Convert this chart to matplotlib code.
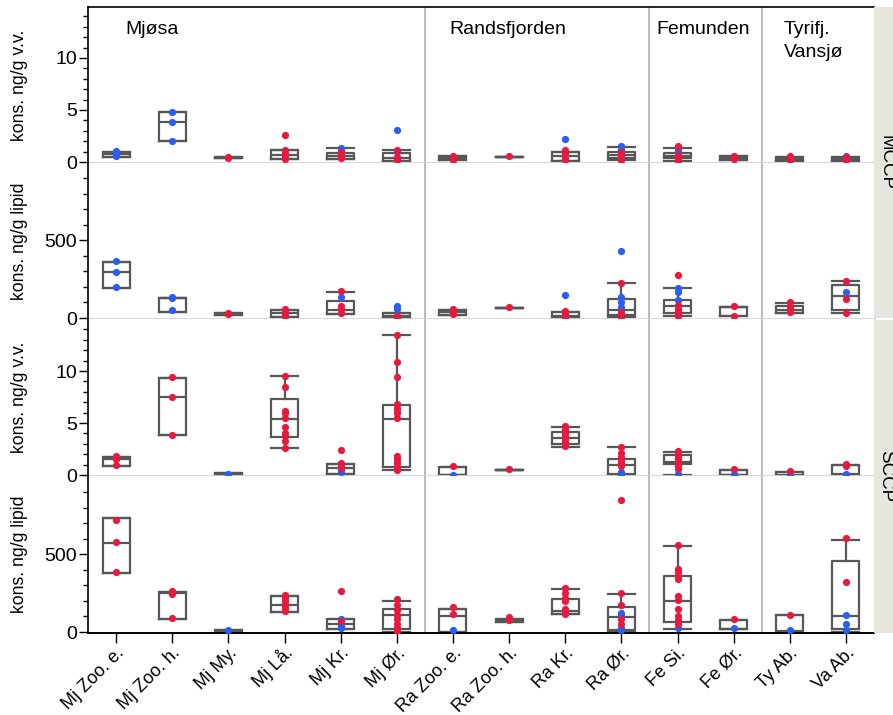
import matplotlib
matplotlib.use("Agg")
import matplotlib.pyplot as plt
from matplotlib.transforms import ScaledTranslation

plt.rcParams['font.family'] = ['Liberation Sans', 'DejaVu Sans']

# ---------------- data ----------------
categories = ["Mj Zoo. e.", "Mj Zoo. h.", "Mj My.", "Mj Lå.", "Mj Kr.", "Mj Ør.",
              "Ra Zoo. e.", "Ra Zoo. h.", "Ra Kr.", "Ra Ør.", "Fe Si.", "Fe Ør.",
              "Ty Ab.", "Va Ab."]
lakes = ["Mjøsa", "Randsfjorden", "Femunden", "Tyrifj.", "Vansjø"]
lake_bounds = [5.5, 9.5, 11.5]
row_labels = ["kons. ng/g v.v.", "kons. ng/g lipid", "kons. ng/g v.v.", "kons. ng/g lipid"]
strip_labels = ["MCCP", "SCCP"]

# box statistics per category: (q1, median, q3, whisker low, whisker high)
mccp_vv_box = [(0.45, 0.75, 1.0, 0.45, 1.0), (2.05, 3.85, 4.84, 2.05, 4.84),
               (0.35, 0.42, 0.5, 0.35, 0.5), (0.26, 0.7, 1.15, 0.26, 1.15),
               (0.3, 0.6, 0.85, 0.3, 1.35), (0.13, 0.35, 0.85, 0.13, 1.15),
               (0.15, 0.35, 0.55, 0.15, 0.55), (0.48, 0.48, 0.48, 0.48, 0.48),
               (0.13, 0.58, 1.0, 0.13, 1.0), (0.42, 0.7, 1.0, 0.15, 1.44),
               (0.38, 0.6, 0.83, 0.13, 1.31), (0.16, 0.35, 0.54, 0.16, 0.54),
               (0.13, 0.3, 0.5, 0.13, 0.5), (0.13, 0.3, 0.5, 0.13, 0.5)]
mccp_vv_red = [[], [], [0.42, 0.47], [0.3, 0.48, 0.72, 0.95, 1.15, 2.6],
               [0.35, 0.55, 0.8, 0.95], [0.15, 0.3, 0.5, 1.2],
               [0.15, 0.35, 0.58], [0.58], [0.15, 0.32, 0.58, 0.83, 1.12],
               [0.15, 0.3, 0.48, 0.74, 1.0], [0.13, 0.26, 0.45, 0.65, 1.5],
               [0.26, 0.45, 0.62], [0.16, 0.35, 0.55], [0.16, 0.35, 0.52]]
mccp_vv_blue = [[0.6, 0.85, 1.08], [2.05, 3.85, 4.84], [], [], [1.05, 1.35],
                [1.0, 3.1], [], [], [2.18], [1.25, 1.5], [1.05, 1.25], [], [], [0.55]]

mccp_lip_box = [(190, 296, 360, 190, 360), (40, 128, 130, 40, 130),
                (18, 25, 35, 18, 35), (8, 32, 54, 8, 54),
                (26, 54, 107, 26, 170), (2, 10, 30, 2, 30),
                (19, 36, 51, 19, 51), (64, 64, 64, 64, 64),
                (2, 15, 41, 2, 41), (17, 49, 124, 4, 223),
                (32, 75, 116, 15, 191), (11, 71, 71, 11, 71),
                (32, 54, 75, 32, 94), (54, 142, 215, 32, 236)]
mccp_lip_red = [[], [], [28, 32], [12, 20, 32, 45, 60], [32, 58, 79, 175],
                [5, 15], [24, 41, 58], [73], [6, 17, 32, 45],
                [4, 11, 24, 39, 227], [11, 28, 43, 60, 86, 279], [15, 80],
                [38, 70, 100], [32, 122, 236]]
mccp_lip_blue = [[200, 296, 369], [49, 128, 133], [], [], [137], [58, 75],
                 [], [], [150], [69, 101, 133, 431], [118, 170, 192], [], [], [167]]

sccp_vv_box = [(0.9, 1.5, 1.7, 0.9, 1.7), (3.8, 7.47, 9.36, 3.8, 9.36),
               (0.0, 0.1, 0.22, 0.0, 0.22), (3.62, 5.38, 7.3, 2.56, 9.52),
               (0.13, 0.7, 1.09, 0.13, 1.09), (0.74, 5.35, 6.7, 0.48, 13.5),
               (0.0, 0.0, 0.8, 0.0, 0.8), (0.48, 0.48, 0.48, 0.48, 0.48),
               (2.98, 3.52, 4.1, 2.66, 4.58), (0.05, 0.96, 1.57, 0.0, 2.69),
               (1.09, 1.25, 1.89, 0.0, 2.24), (0.0, 0.0, 0.48, 0.0, 0.48),
               (-0.1, 0.0, 0.32, -0.1, 0.32), (-0.1, 0.05, 0.96, -0.1, 0.96)]
sccp_vv_red = [[0.96, 1.54, 1.86], [3.85, 7.47, 9.46], [],
               [2.56, 3.27, 3.75, 4.04, 4.58, 5.45, 6.0, 6.19, 8.46, 9.52],
               [0.64, 0.9, 1.12, 2.4],
               [0.48, 0.8, 1.12, 1.5, 1.83, 5.48, 6.0, 6.25, 6.47, 6.8, 9.42, 10.9, 13.5],
               [0.87], [0.54], [2.8, 3.14, 3.4, 3.65, 3.9, 4.17, 4.42, 4.7],
               [0.87, 1.12, 1.38, 1.76, 2.15, 2.72],
               [0.58, 0.87, 1.18, 1.54, 1.76, 1.99, 2.3], [0.54], [0.35], [0.83, 1.09]]
sccp_vv_blue = [[], [], [0.1], [], [0.26, 0.45], [], [0.03], [], [],
                [0.06, 0.32], [0.06], [0.13], [0.0], [0.13]]

sccp_lip_box = [(380, 573, 734, 380, 734), (82, 251, 258, 82, 258),
                (-4, 5, 15, -4, 15), (129, 176, 234, 129, 234),
                (21, 54, 86, 21, 86), (21, 107, 148, 0, 202),
                (0, 105, 150, 0, 150), (62, 74, 86, 62, 86),
                (114, 135, 212, 114, 277), (15, 97, 159, 0, 245),
                (62, 200, 360, 21, 554), (19, 19, 77, 19, 77),
                (-4, 5, 107, -4, 107), (21, 103, 457, 0, 594)]
sccp_lip_red = [[386, 579, 723], [88, 245, 262], [], [135, 157, 176, 197, 221, 238],
                [70, 262], [9, 28, 54, 86, 112, 139, 176, 210], [118, 159], [75, 94],
                [116, 133, 150, 197, 221, 253, 285], [54, 84, 172, 249, 850],
                [52, 75, 103, 146, 204, 230, 343, 360, 386, 408, 560], [84], [109],
                [322, 605]]
sccp_lip_blue = [[], [], [11], [], [25, 40, 85], [], [11], [], [],
                 [13, 26, 112, 122], [26], [24], [15], [15, 54, 109]]

panels = [(mccp_vv_box, mccp_vv_red, mccp_vv_blue),
          (mccp_lip_box, mccp_lip_red, mccp_lip_blue),
          (sccp_vv_box, sccp_vv_red, sccp_vv_blue),
          (sccp_lip_box, sccp_lip_red, sccp_lip_blue)]

# ---------------- layout ----------------
W, H = 893, 715
RED = "#e8193f"
BLUE = "#2a5ef0"
BOXC = "#575757"


def fx(px):
    return px / W


def fy(py):
    return 1 - py / H


fig = plt.figure(figsize=(W / 100, H / 100), dpi=100)
edges = [7, 163, 319, 476, 633]
ylims = [(-0.096, 14.9), (-6.4, 998), (-0.096, 15.0), (-6.4, 1004)]
left_px, right_px = 88, 874
positions = list(range(len(categories)))

axes = []
for i, (box, red, blue) in enumerate(panels):
    top, bot = edges[i], edges[i + 1]
    ax = fig.add_axes([fx(left_px), fy(bot), (right_px - left_px) / W, (bot - top) / H])
    axes.append(ax)
    stats = [dict(q1=b[0], med=b[1], q3=b[2], whislo=b[3], whishi=b[4], fliers=[])
             for b in box]
    lp = dict(color=BOXC, linewidth=1.6)
    ax.bxp(stats, positions=positions, widths=0.48, capwidths=0.48,
           showfliers=False, boxprops=lp, medianprops=lp, whiskerprops=lp,
           capprops=lp, manage_ticks=False, zorder=2)
    for j in positions:
        if blue[j]:
            ax.scatter([j] * len(blue[j]), blue[j], s=27, color=BLUE, zorder=3,
                       linewidths=0)
        if red[j]:
            ax.scatter([j] * len(red[j]), red[j], s=27, color=RED, zorder=4,
                       linewidths=0)
    for xb in lake_bounds:
        ax.axvline(xb, color="#b4b4b4", linewidth=1.3, zorder=1)
    ax.set_xlim(-0.5, 13.5)
    ax.set_ylim(*ylims[i])
    if i % 2 == 0:
        ax.set_yticks([0, 5, 10])
        ax.set_yticks(range(0, 15), minor=True)
    else:
        ax.set_yticks([0, 500])
        ax.set_yticks(range(0, 1000, 100), minor=True)
    ax.tick_params(axis='y', which='major', length=6.5, width=1.0, pad=1.5,
                   labelsize=14, color='black')
    ax.tick_params(axis='y', which='minor', length=3.6, width=1.0, color='black')
    ax.spines['right'].set_visible(False)
    ax.spines['left'].set_linewidth(1.2)
    if i == 0:
        ax.spines['top'].set_linewidth(1.2)
    else:
        ax.spines['top'].set_visible(False)
    if i < 3:
        ax.spines['bottom'].set_color('#d4d4d4')
        ax.spines['bottom'].set_linewidth(2.0)
        ax.set_xticks([])
    else:
        ax.spines['bottom'].set_linewidth(1.4)
        ax.set_xticks(positions)
        ax.set_xticklabels(categories, rotation=45, ha='right', va='baseline',
                           rotation_mode='anchor', fontsize=13)
        ax.tick_params(axis='x', length=7, width=1.0, pad=8)
        off = ScaledTranslation(9 / 100, 0, fig.dpi_scale_trans)
        for lab in ax.get_xticklabels():
            lab.set_transform(lab.get_transform() + off)
    fig.text(fx(20), fy((top + bot) / 2), row_labels[i], rotation=90,
             ha='center', va='center', fontsize=12.7)

# lake labels
fig.text(fx(125.5), fy(34.3), lakes[0], fontsize=14, va='baseline', ha='left')
fig.text(fx(449), fy(34.3), lakes[1], fontsize=14, va='baseline', ha='left')
fig.text(fx(656), fy(34.3), lakes[2], fontsize=14, va='baseline', ha='left')
fig.text(fx(784), fy(34.3), lakes[3], fontsize=14, va='baseline', ha='left')
fig.text(fx(784), fy(57.3), lakes[4], fontsize=14, va='baseline', ha='left')

# strips
for k, (t, b) in enumerate([(7, 318), (320, 633)]):
    sax = fig.add_axes([fx(874), fy(b), 40 / W, (b - t) / H])
    sax.set_facecolor('#e6e6df')
    sax.set_xticks([])
    sax.set_yticks([])
    for s in sax.spines.values():
        s.set_visible(False)
    fig.text(fx(886), fy((t + b) / 2), strip_labels[k], rotation=270,
             ha='center', va='center', fontsize=13.5)

fig.savefig("out.png", dpi=100)
